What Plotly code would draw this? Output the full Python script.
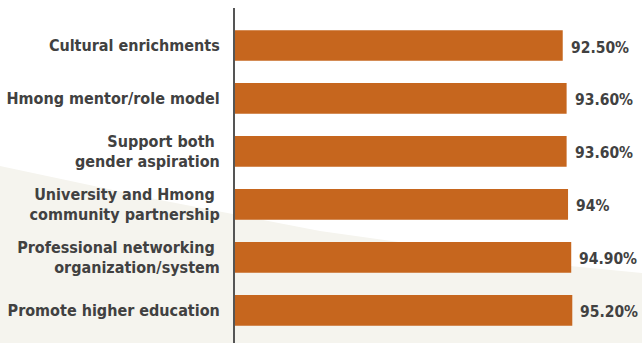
import plotly.graph_objects as go

# Survey items (top to bottom) and share of respondents agreeing (%)
categories = [
    "Cultural enrichments",
    "Hmong mentor/role model",
    "Support both\u00a0<br>gender aspiration",
    "University and Hmong\u00a0<br>community partnership",
    "Professional networking\u00a0<br>organization/system",
    "Promote higher education",
]
values = [92.5, 93.6, 93.6, 94.0, 94.9, 95.2]
value_labels = ["92.50%", "93.60%", "93.60%", "94%", "94.90%", "95.20%"]

BAR = "#C6661E"
TEXT = "#414141"
FONT = "DejaVu Sans Condensed"

W, H = 642, 343
L, T = 235, 8

fig = go.Figure(
    go.Bar(
        x=values,
        y=categories,
        orientation="h",
        marker=dict(color=BAR, line=dict(width=0)),
        width=0.58,
        hoverinfo="skip",
    )
)

for cat, v, lab in zip(categories, values, value_labels):
    fig.add_annotation(
        x=v, y=cat, text=lab, showarrow=False,
        xanchor="left", yanchor="middle", xshift=6, yshift=-2,
        font=dict(family=FONT, size=15.5, color=TEXT, weight="bold"),
    )

# soft beige band sweeping across the lower part of the page
def px(x):
    return (x - L) / (W - L)

def py(y):
    return (H - y) / (H - T)

band = [(0, 166), (160, 200), (320, 231), (570, 266), (642, 273), (642, 343), (0, 343)]
path = "M " + " L ".join(f"{px(a):.4f},{py(b):.4f}" for a, b in band) + " Z"
fig.add_shape(type="path", path=path, xref="paper", yref="paper",
              fillcolor="#F5F4EE", line=dict(width=0), layer="below")

fig.update_layout(
    width=W, height=H,
    margin=dict(l=L, r=0, t=T, b=0, autoexpand=False),
    paper_bgcolor="white",
    plot_bgcolor="rgba(0,0,0,0)",
    showlegend=False,
    bargap=0.42,
    xaxis=dict(range=[0, (W - L) / 3.543], visible=False, fixedrange=True,
               automargin=False),
    yaxis=dict(
        type="category",
        categoryorder="array", categoryarray=categories,
        range=[5.617, -0.708],
        showline=True, linecolor="#555555", linewidth=2,
        showgrid=False, zeroline=False, automargin=False,
        ticks="", ticklabelstandoff=10,
        tickfont=dict(family=FONT, size=16, color=TEXT, weight="bold"),
    ),
)

fig.write_html("out.html")
